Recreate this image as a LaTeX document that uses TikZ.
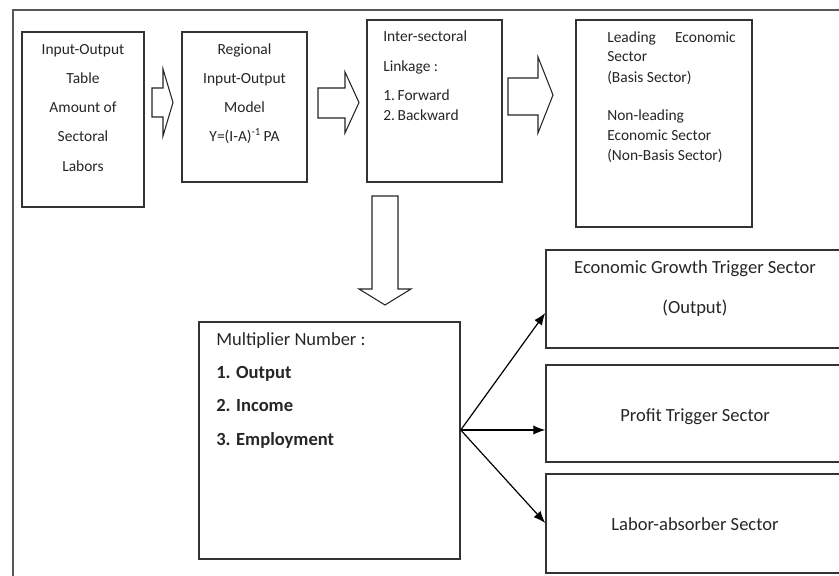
\documentclass[tikz,border=0pt]{standalone}
\usepackage{fontspec}
\setmainfont{Carlito}
\usetikzlibrary{arrows.meta,fit}
\begin{document}
\begin{tikzpicture}[x=0.75pt,y=-0.75pt,
  box/.style={draw=black!80,line width=1.1pt,inner sep=0pt,rectangle},
  hollow/.style={draw=black!85,line width=0.8pt,line join=miter},
  conn/.style={draw=black,line width=0.9pt,-{Latex[length=9pt,width=7pt]}},
  st/.style={font=\fontsize{11.6}{14}\selectfont,text=black!85,inner sep=0pt},
  bt/.style={font=\fontsize{13.9}{16}\selectfont,text=black!85,inner sep=0pt}]
\useasboundingbox (0,0) rectangle (839,575);
\clip (0,0) rectangle (839,575);
\fill[white] (0,0) rectangle (839,575);
% outer frame
\draw[black!65,line width=0.8pt] (13,580) -- (13,10) -- (845,10);
% boxes
\node[box,fit={(22,32) (144,207)}] (b1) {};
\node[box,fit={(182,32) (307,182)}] (b2) {};
\node[box,fit={(367,20) (502,182)}] (b3) {};
\node[box,fit={(576,20) (752,227)}] (b4) {};
\node[box,fit={(199,322) (460,559)}] (b5) {};
\node[box,fit={(546,250) (860,348)}] (b6) {};
\node[box,fit={(546,365) (860,462)}] (b7) {};
\node[box,fit={(546,474) (860,573)}] (b8) {};
% hollow block arrows
\draw[hollow] (152,88) -- (163,88) -- (163,69) -- (173,102.5) -- (163,136) -- (163,117) -- (152,117) -- cycle;
\draw[hollow] (318,88) -- (345,88) -- (345,72) -- (359,102.5) -- (345,133) -- (345,118) -- (318,118) -- cycle;
\draw[hollow] (508,78) -- (538,78) -- (538,57) -- (553,95) -- (538,133) -- (538,115) -- (508,115) -- cycle;
\draw[hollow] (372,196) -- (398,196) -- (398,289) -- (411,289) -- (385,305) -- (359,289) -- (372,289) -- cycle;
% box 1 text
\node[st,anchor=mid] (t11) at (83,51) {Input-Output};
\node[st,anchor=mid] (t12) at (83,80) {Table};
\node[st,anchor=mid] (t13) at (83,109) {Amount of};
\node[st,anchor=mid] (t14) at (83,138) {Sectoral};
\node[st,anchor=mid] (t15) at (83,168) {Labors};
% box 2 text
\node[st,anchor=mid] (t21) at (244.5,51) {Regional};
\node[st,anchor=mid] (t22) at (244.5,80) {Input-Output};
\node[st,anchor=mid] (t23) at (244.5,109) {Model};
\node[st,anchor=mid] (t24) at (244.5,138) {Y=(I-A)\textsuperscript{-1}\,PA};
% box 3 text
\node[st,anchor=mid west] (t31) at (383,38) {Inter-sectoral};
\node[st,anchor=mid west] (t32) at (383,68) {Linkage :};
\node[st,anchor=mid west] (t33) at (383,97) {1.\hspace{2pt}Forward};
\node[st,anchor=mid west] (t34) at (383,117) {2.\hspace{2pt}Backward};
% box 4 text
\node[st,anchor=mid west] (t41) at (607,39) {Leading};
\node[st,anchor=mid east] (t41b) at (736,39) {Economic};
\node[st,anchor=mid west] (t42) at (607,58) {Sector};
\node[st,anchor=mid west] (t43) at (607,79) {(Basis Sector)};
\node[st,anchor=mid west] (t44) at (607,117) {Non-leading};
\node[st,anchor=mid west] (t45) at (607,137) {Economic Sector};
\node[st,anchor=mid west] (t46) at (607,157) {(Non-Basis Sector)};
% box 5 text
\node[bt,anchor=mid west] (t51) at (216,342) {Multiplier Number :};
\node[bt,anchor=mid west,font=\fontsize{13.9}{16}\selectfont\bfseries] (t52) at (216,375) {1. Output};
\node[bt,anchor=mid west,font=\fontsize{13.9}{16}\selectfont\bfseries] (t53) at (216,408) {2. Income};
\node[bt,anchor=mid west,font=\fontsize{13.9}{16}\selectfont\bfseries] (t54) at (216,442) {3. Employment};
% right boxes text
\node[bt,anchor=mid] (t61) at (695,270) {Economic Growth Trigger Sector};
\node[bt,anchor=mid] (t62) at (695,310) {(Output)};
\node[bt,anchor=mid] (t71) at (695,418) {Profit Trigger Sector};
\node[bt,anchor=mid] (t81) at (695,527) {Labor-absorber Sector};
% connectors
\coordinate (src) at (b5.east |- 0,430);
\draw[conn] (src) -- (b6.west |- 0,313);
\draw[conn] (src) -- (b7.west |- 0,430);
\draw[conn] (src) -- (b8.west |- 0,523);
\end{tikzpicture}
\end{document}
